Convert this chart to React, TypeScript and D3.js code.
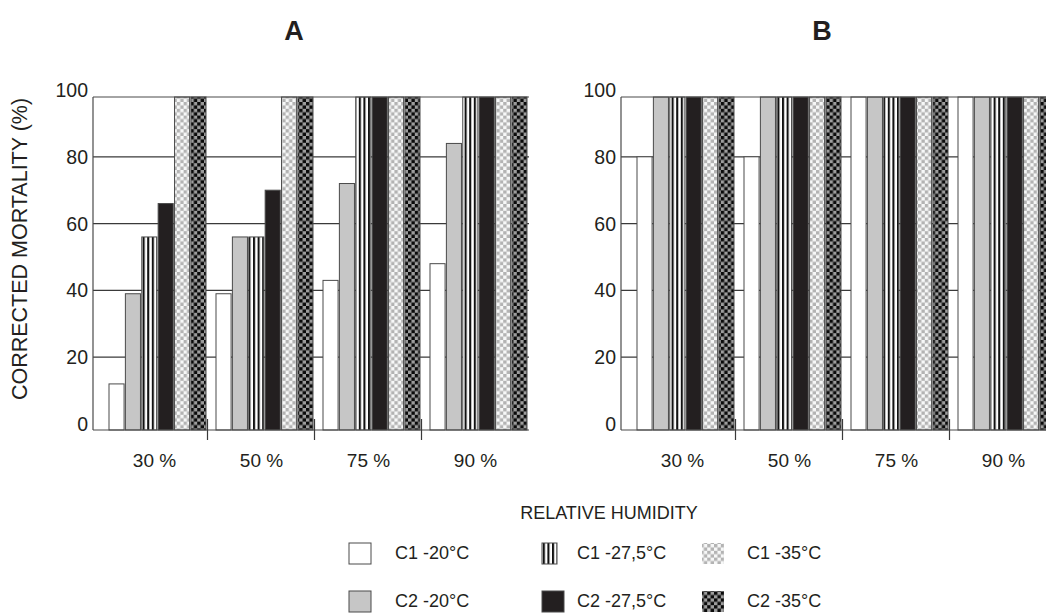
import React from "react";
import * as d3 from "d3";

const categories = ["30 %", "50 %", "75 %", "90 %"];
const seriesKeys = ["C1 -20°C", "C2 -20°C", "C1 -27,5°C", "C2 -27,5°C", "C1 -35°C", "C2 -35°C"];
// values per series, per category (30,50,75,90 %)
const panelA_C1_20 = [12, 39, 43, 48];
const panelA_C2_20 = [39, 56, 72, 84];
const panelA_C1_275 = [56, 56, 100, 100];
const panelA_C2_275 = [66, 70, 100, 100];
const panelA_C1_35 = [100, 100, 100, 100];
const panelA_C2_35 = [100, 100, 100, 100];

const panelB_C1_20 = [80, 80, 100, 100];
const panelB_C2_20 = [100, 100, 100, 100];
const panelB_C1_275 = [100, 100, 100, 100];
const panelB_C2_275 = [100, 100, 100, 100];
const panelB_C1_35 = [100, 100, 100, 100];
const panelB_C2_35 = [100, 100, 100, 100];

const yTicks = [0, 20, 40, 60, 80, 100];
const panelTitles = ["A", "B"];

const panels = [
  [panelA_C1_20, panelA_C2_20, panelA_C1_275, panelA_C2_275, panelA_C1_35, panelA_C2_35],
  [panelB_C1_20, panelB_C2_20, panelB_C1_275, panelB_C2_275, panelB_C1_35, panelB_C2_35],
];

const fills = [
  "#ffffff",
  "#c6c6c6",
  "url(#stripes)",
  "#231f20",
  "url(#lightcheck)",
  "url(#darkcheck)",
];

const FONT = "'Liberation Sans', Arial, Helvetica, sans-serif";
const W = 1046;
const H = 614;

function Panel({ values, title, ox }: { values: number[][]; title: string; ox: number }) {
  const axisX = 93 + ox;
  const frameTop = 97;
  const frameBottom = 430;
  const x = d3.scaleBand<string>().domain(categories).range([101 + ox, 529 + ox]);
  const inner = d3
    .scaleBand<string>()
    .domain(seriesKeys)
    .range([8, 105])
    .paddingInner(0.08);
  const y = d3.scaleLinear().domain([0, 100]).range([424, 90]);
  const right = 529 + ox;
  const gridVals = yTicks.filter((t) => t > 0 && t < 100);
  return (
    <g>
      <text
        x={axisX + 201}
        y={40}
        textAnchor="middle"
        fontFamily={FONT}
        fontWeight="bold"
        fontSize={27}
        fill="#231f20"
      >
        {title}
      </text>
      {gridVals.map((t) => (
        <line key={t} x1={axisX} x2={right} y1={y(t)} y2={y(t)} stroke="#3a3a3a" strokeWidth={1.2} />
      ))}
      {categories.map((c, ci) =>
        seriesKeys.map((s, si) => {
          const v = values[si][ci];
          const top = Math.max(y(v), frameTop);
          const bx = (x(c) as number) + (inner(s) as number);
          return (
            <rect
              key={c + s}
              x={bx}
              y={top}
              width={inner.bandwidth()}
              height={frameBottom - top}
              fill={fills[si]}
              stroke="#4a4a4a"
              strokeWidth={1}
            />
          );
        })
      )}
      <line x1={axisX} x2={right} y1={frameTop} y2={frameTop} stroke="#4a4a4a" strokeWidth={1.2} />
      <line x1={axisX} x2={right} y1={frameBottom} y2={frameBottom} stroke="#4a4a4a" strokeWidth={1.2} />
      <line x1={axisX} x2={axisX} y1={frameTop} y2={frameBottom} stroke="#4a4a4a" strokeWidth={1.2} />
      {categories.slice(1).map((c) => (
        <line
          key={c}
          x1={(x(c) as number) - 0.5}
          x2={(x(c) as number) - 0.5}
          y1={419}
          y2={440}
          stroke="#3a3a3a"
          strokeWidth={1.2}
        />
      ))}
      {yTicks.map((t) => (
        <text
          key={t}
          x={axisX - 5}
          y={y(t)}
          dy="0.36em"
          textAnchor="end"
          fontFamily={FONT}
          fontSize={19.5}
          fill="#231f20"
        >
          {t}
        </text>
      ))}
      {categories.map((c) => (
        <text
          key={c}
          x={(x(c) as number) + x.bandwidth() / 2}
          y={467}
          textAnchor="middle"
          fontFamily={FONT}
          fontSize={19}
          fill="#231f20"
        >
          {c}
        </text>
      ))}
    </g>
  );
}

const legendCols = [
  { iconX: 349, textX: 395 },
  { iconX: 542, textX: 577 },
  { iconX: 702, textX: 747 },
];
const legendRows = [553, 601];

export default function App() {
  return (
    <svg width={W} height={H} style={{ display: "block", position: "absolute", left: 0, top: 0 }}>
      <defs>
        <pattern id="stripes" patternUnits="userSpaceOnUse" width={4.6} height={10}>
          <rect x={0} y={0} width={4.6} height={10} fill="#ffffff" />
          <rect x={0} y={0} width={2.1} height={10} fill="#111111" />
        </pattern>
        <pattern id="lightcheck" patternUnits="userSpaceOnUse" width={6.8} height={6.8}>
          <rect x={0} y={0} width={6.8} height={6.8} fill="#f7f8f8" />
          <rect x={0} y={0} width={3.4} height={3.4} fill="#b3b3b3" />
          <rect x={3.4} y={3.4} width={3.4} height={3.4} fill="#b3b3b3" />
        </pattern>
        <pattern id="darkcheck" patternUnits="userSpaceOnUse" width={6.8} height={6.8}>
          <rect x={0} y={0} width={6.8} height={6.8} fill="#9d9d9d" />
          <rect x={0} y={0} width={3.4} height={3.4} fill="#0a0a0a" />
          <rect x={3.4} y={3.4} width={3.4} height={3.4} fill="#0a0a0a" />
        </pattern>
      </defs>
      <rect x={0} y={0} width={W} height={H} fill="#ffffff" />
      {panels.map((vals, i) => (
        <Panel key={i} values={vals} title={panelTitles[i]} ox={i * 528} />
      ))}
      <text
        transform="translate(27,249) rotate(-90)"
        textAnchor="middle"
        fontFamily={FONT}
        fontSize={21.5}
        fill="#231f20"
      >
        CORRECTED MORTALITY (%)
      </text>
      <text x={609} y={519} textAnchor="middle" fontFamily={FONT} fontSize={18} fill="#231f20">
        RELATIVE HUMIDITY
      </text>
      {seriesKeys.map((s, si) => {
        const col = legendCols[Math.floor(si / 2)];
        const cy = legendRows[si % 2];
        const iw = si === 2 ? 15 : 22;
        return (
          <g key={s}>
            <rect
              x={col.iconX}
              y={cy - 10}
              width={iw}
              height={21}
              fill={fills[si]}
              stroke={si >= 4 ? "none" : "#4a4a4a"}
              strokeWidth={1}
            />
            <text
              x={col.textX}
              y={cy}
              dy="0.36em"
              fontFamily={FONT}
              fontSize={18}
              fill="#231f20"
            >
              {s}
            </text>
          </g>
        );
      })}
    </svg>
  );
}
